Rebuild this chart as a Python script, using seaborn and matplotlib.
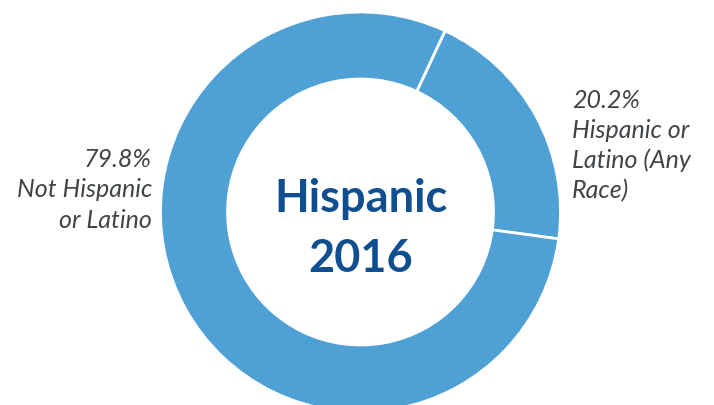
import matplotlib
matplotlib.use("Agg")
import matplotlib.pyplot as plt
import seaborn as sns

categories = ["Hispanic or Latino (Any Race)", "Not Hispanic or Latino"]
values = [20.2, 79.8]
label_lines = [["20.2%", "Hispanic or", "Latino (Any", "Race)"],
               ["79.8%", "Not Hispanic", "or Latino"]]
title_lines = ["Hispanic", "2016"]

sns.set_theme(style="white")
plt.rcParams["font.family"] = ["Lato", "DejaVu Sans"]

ring = "#4FA1D5"
dark = "#0F4F8F"
grey = "#3F4448"

W, H = 714, 406
fig = plt.figure(figsize=(W / 100, H / 100), dpi=100)
ax = fig.add_axes([0, 0, 1, 1])
cx, cy = 360.5, H - 213
ax.pie(values, colors=[ring, ring], startangle=65, counterclock=False,
       radius=200, center=(cx, cy),
       wedgeprops=dict(width=67, edgecolor="white", linewidth=2))
ax.set_xlim(0, W)
ax.set_ylim(0, H)
ax.set_aspect("auto")
ax.axis("off")

# center title
ax.text(cx, H - 211.7, title_lines[0], ha="center", va="baseline",
        fontsize=32.5, fontweight="bold", color=dark)
ax.text(cx, H - 271.7, title_lines[1], ha="center", va="baseline",
        fontsize=32.5, fontweight="bold", color=dark)

# right label (Hispanic)
for i, line in enumerate(label_lines[0]):
    ax.text(572, H - (108 + 30 * i), line, ha="left", va="baseline",
            fontsize=18, fontstyle="italic", color=grey)
# left label (Not Hispanic)
for i, line in enumerate(label_lines[1]):
    ax.text(152, H - (166.7 + 30.5 * i), line, ha="right", va="baseline",
            fontsize=18, fontstyle="italic", color=grey)

fig.savefig("out.png", dpi=100)
